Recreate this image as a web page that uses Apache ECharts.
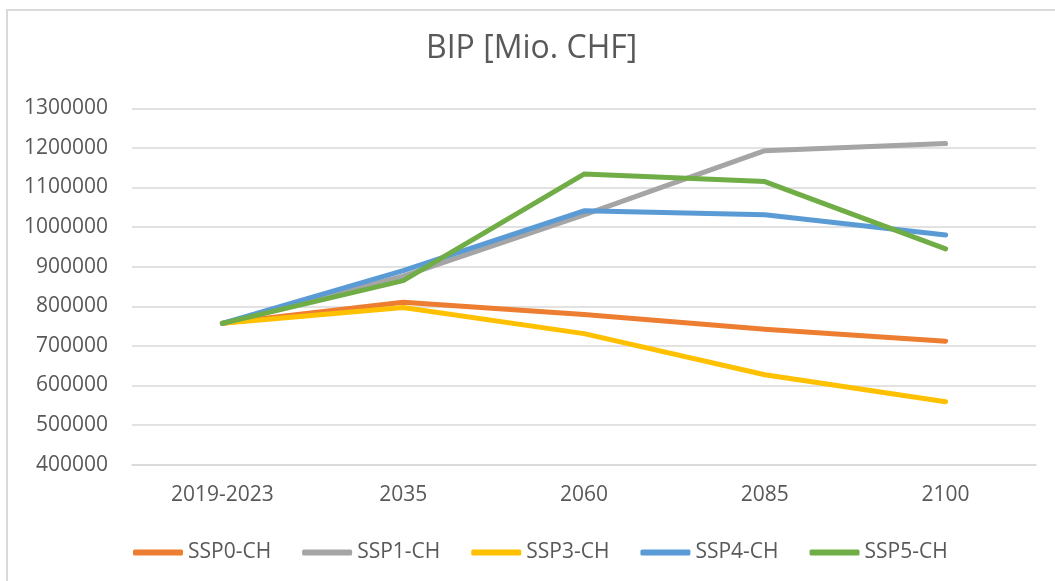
<!DOCTYPE html>
<html>
<head>
<meta charset="utf-8">
<script src="https://cdn.jsdelivr.net/npm/echarts@6/dist/echarts.min.js"></script>
<style>
html,body{margin:0;padding:0;background:#fff;}
#c{width:1055px;height:581px;}
</style>
</head>
<body>
<div id="c"></div>
<script>
const categories = ['2019-2023', '2035', '2060', '2085', '2100'];
const ssp0 = [757000, 810000, 779000, 742000, 712000];
const ssp1 = [757000, 876000, 1031000, 1193000, 1211000];
const ssp3 = [757000, 797000, 731000, 627000, 559000];
const ssp4 = [757000, 890000, 1041000, 1031000, 980000];
const ssp5 = [757000, 865000, 1134000, 1115000, 945000];
const seriesNames = ['SSP0-CH', 'SSP1-CH', 'SSP3-CH', 'SSP4-CH', 'SSP5-CH'];
const seriesColors = ['#ED7D31', '#A5A5A5', '#FFC000', '#5B9BD5', '#70AD47'];
const seriesData = [ssp0, ssp1, ssp3, ssp4, ssp5];

const font = 'Open Sans';
const txt = '#595959';
const chart = echarts.init(document.getElementById('c'), null, {renderer: 'canvas'});
chart.setOption({
  animation: false,
  backgroundColor: '#fff',
  textStyle: {fontFamily: font},
  graphic: [{
    type: 'rect', shape: {x: 7, y: 10, width: 1100, height: 620},
    style: {fill: 'none', stroke: '#D9D9D9', lineWidth: 2}, silent: true, z: -1
  }],
  title: {
    text: 'BIP [Mio. CHF]', left: 426, top: 33, padding: 0,
    textStyle: {fontFamily: font, fontSize: 32, fontWeight: 'normal', color: txt}
  },
  legend: {
    left: 128, top: 537, itemWidth: 50, itemHeight: 6, itemGap: 31,
    icon: 'roundRect',
    data: seriesNames,
    textStyle: {fontFamily: font, fontSize: 21, color: txt, padding: [0, 0, 0, 0]}
  },
  grid: {left: 132, right: 19, top: 108.3, bottom: 116.3, containLabel: false},
  xAxis: {
    type: 'category', data: categories, boundaryGap: true,
    axisLine: {lineStyle: {color: '#D9D9D9', width: 1.5}},
    axisTick: {show: false},
    axisLabel: {fontFamily: font, fontSize: 21, color: txt, margin: 20}
  },
  yAxis: {
    type: 'value', min: 400000, max: 1300000, interval: 100000,
    axisLine: {show: false}, axisTick: {show: false},
    splitLine: {lineStyle: {color: '#D9D9D9', width: 1.5}},
    axisLabel: {fontFamily: font, fontSize: 21, color: txt, margin: 24, formatter: v => String(v)}
  },
  series: seriesNames.map((n, i) => ({
    name: n, type: 'line', data: seriesData[i], symbol: 'none',
    color: seriesColors[i],
    itemStyle: {color: seriesColors[i]},
    lineStyle: {width: 5, color: seriesColors[i], cap: 'round', join: 'round'}
  }))
});
</script>
</body>
</html>
